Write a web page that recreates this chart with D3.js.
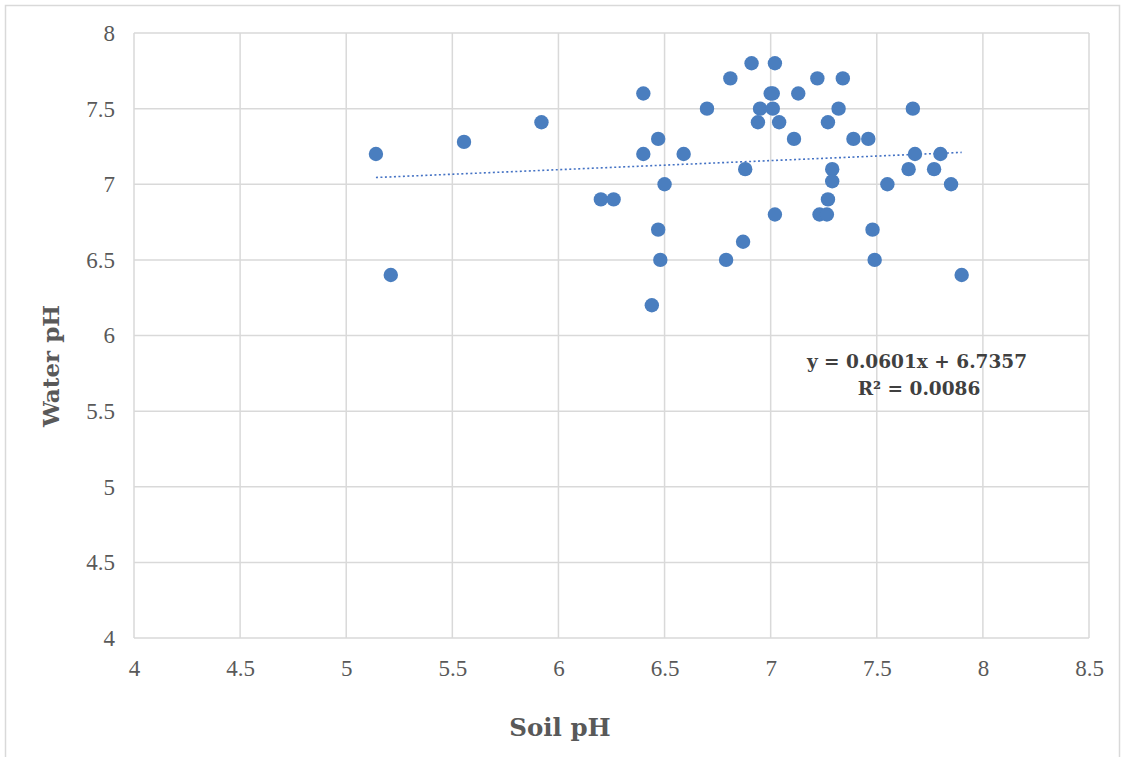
<!DOCTYPE html>
<html>
<head>
<meta charset="utf-8">
<script src="https://cdn.jsdelivr.net/npm/d3@7"></script>
<style>
  body { margin: 0; background: #fff; }
  svg text { font-family: "Liberation Serif", "DejaVu Serif", serif; }
  svg text.title { font-family: "DejaVu Serif", serif; font-weight: bold; }
</style>
</head>
<body>
<div id="chart"></div>
<script>
// Soil pH (x) vs Water pH (y)
const soilPH = [5.14, 5.21, 5.555, 5.92, 6.20, 6.26, 6.40, 6.40, 6.47, 6.50,
    6.47, 6.48, 6.44, 6.59, 6.70, 6.81, 6.79, 6.91, 7.02, 7.00,
    7.01, 6.95, 7.01, 6.94, 7.04, 7.13, 7.11, 7.22, 7.34, 7.32,
    7.27, 7.39, 7.46, 6.88, 7.29, 7.29, 7.27, 7.02, 7.23, 7.265,
    6.87, 7.48, 7.49, 7.55, 7.67, 7.68, 7.80, 7.65, 7.77, 7.85, 7.90];
const waterPH = [7.2, 6.4, 7.28, 7.41, 6.9, 6.9, 7.6, 7.2, 7.3, 7.0,
    6.7, 6.5, 6.2, 7.2, 7.5, 7.7, 6.5, 7.8, 7.8, 7.6,
    7.6, 7.5, 7.5, 7.41, 7.41, 7.6, 7.3, 7.7, 7.7, 7.5,
    7.41, 7.3, 7.3, 7.1, 7.1, 7.02, 6.9, 6.8, 6.8, 6.8,
    6.62, 6.7, 6.5, 7.0, 7.5, 7.2, 7.2, 7.1, 7.1, 7.0, 6.4];

const xTicks = [4, 4.5, 5, 5.5, 6, 6.5, 7, 7.5, 8, 8.5];
const yTicks = [4, 4.5, 5, 5.5, 6, 6.5, 7, 7.5, 8];

// trendline as printed on the chart
const slope = 0.0601, intercept = 6.7357;
const trendLabel = ["y = 0.0601x + 6.7357", "R² = 0.0086"];

const width = 1123, height = 757;
const plot = { left: 134, right: 1089, top: 33, bottom: 638 };

const svg = d3.select("#chart").append("svg")
    .attr("width", width)
    .attr("height", height);

// outer chart border
svg.append("rect")
    .attr("x", 5.5).attr("y", 5.5)
    .attr("width", 1114).attr("height", 770)
    .attr("fill", "#fff")
    .attr("stroke", "#d9d9d9")
    .attr("stroke-width", 1.5);

const x = d3.scaleLinear().domain([4, 8.5]).range([plot.left, plot.right]);
const y = d3.scaleLinear().domain([4, 8]).range([plot.bottom, plot.top]);

// grid lines
svg.append("g")
    .selectAll("line")
    .data(xTicks)
    .join("line")
    .attr("x1", d => x(d)).attr("x2", d => x(d))
    .attr("y1", plot.top).attr("y2", plot.bottom)
    .attr("stroke", "#d9d9d9")
    .attr("stroke-width", 1.5);

svg.append("g")
    .selectAll("line")
    .data(yTicks)
    .join("line")
    .attr("x1", plot.left).attr("x2", plot.right)
    .attr("y1", d => y(d)).attr("y2", d => y(d))
    .attr("stroke", "#d9d9d9")
    .attr("stroke-width", 1.5);

// axes (labels only, no tick marks)
const xAxis = svg.append("g")
    .attr("transform", `translate(0,${plot.bottom})`)
    .call(d3.axisBottom(x).tickValues(xTicks).tickSize(0).tickPadding(22).tickFormat(d3.format("")));
xAxis.select(".domain").remove();
xAxis.selectAll("text")
    .attr("fill", "#595959")
    .style("font-size", "23px");

const yAxis = svg.append("g")
    .attr("transform", `translate(${plot.left},0)`)
    .call(d3.axisLeft(y).tickValues(yTicks).tickSize(0).tickPadding(19).tickFormat(d3.format("")));
yAxis.select(".domain").remove();
yAxis.selectAll("text")
    .attr("fill", "#595959")
    .style("font-size", "23px");

// trendline (dotted)
const xMin = d3.min(soilPH), xMax = d3.max(soilPH);
svg.append("line")
    .attr("x1", x(xMin)).attr("y1", y(slope * xMin + intercept))
    .attr("x2", x(xMax)).attr("y2", y(slope * xMax + intercept))
    .attr("stroke", "#4472c4")
    .attr("stroke-width", 1.6)
    .attr("stroke-dasharray", "2,2.5");

// points
const points = soilPH.map((v, i) => ({ soil: v, water: waterPH[i] }));
svg.append("g")
    .selectAll("circle")
    .data(points)
    .join("circle")
    .attr("cx", d => x(d.soil))
    .attr("cy", d => y(d.water))
    .attr("r", 7.2)
    .attr("fill", "#4a7ebf");

// trendline equation
svg.append("text")
    .attr("class", "title")
    .attr("x", 917).attr("y", 368)
    .attr("text-anchor", "middle")
    .attr("fill", "#404040")
    .style("font-size", "18.5px")
    .text(trendLabel[0]);
svg.append("text")
    .attr("class", "title")
    .attr("x", 919).attr("y", 395)
    .attr("text-anchor", "middle")
    .attr("fill", "#404040")
    .style("font-size", "18.5px")
    .text(trendLabel[1]);

// axis titles
svg.append("text")
    .attr("class", "title")
    .attr("x", 560).attr("y", 736)
    .attr("text-anchor", "middle")
    .attr("fill", "#595959")
    .style("font-size", "24.5px")
    .text("Soil pH");

svg.append("text")
    .attr("class", "title")
    .attr("transform", "translate(59,366) rotate(-90)")
    .attr("text-anchor", "middle")
    .attr("fill", "#595959")
    .style("font-size", "23px")
    .text("Water pH");
</script>
</body>
</html>
